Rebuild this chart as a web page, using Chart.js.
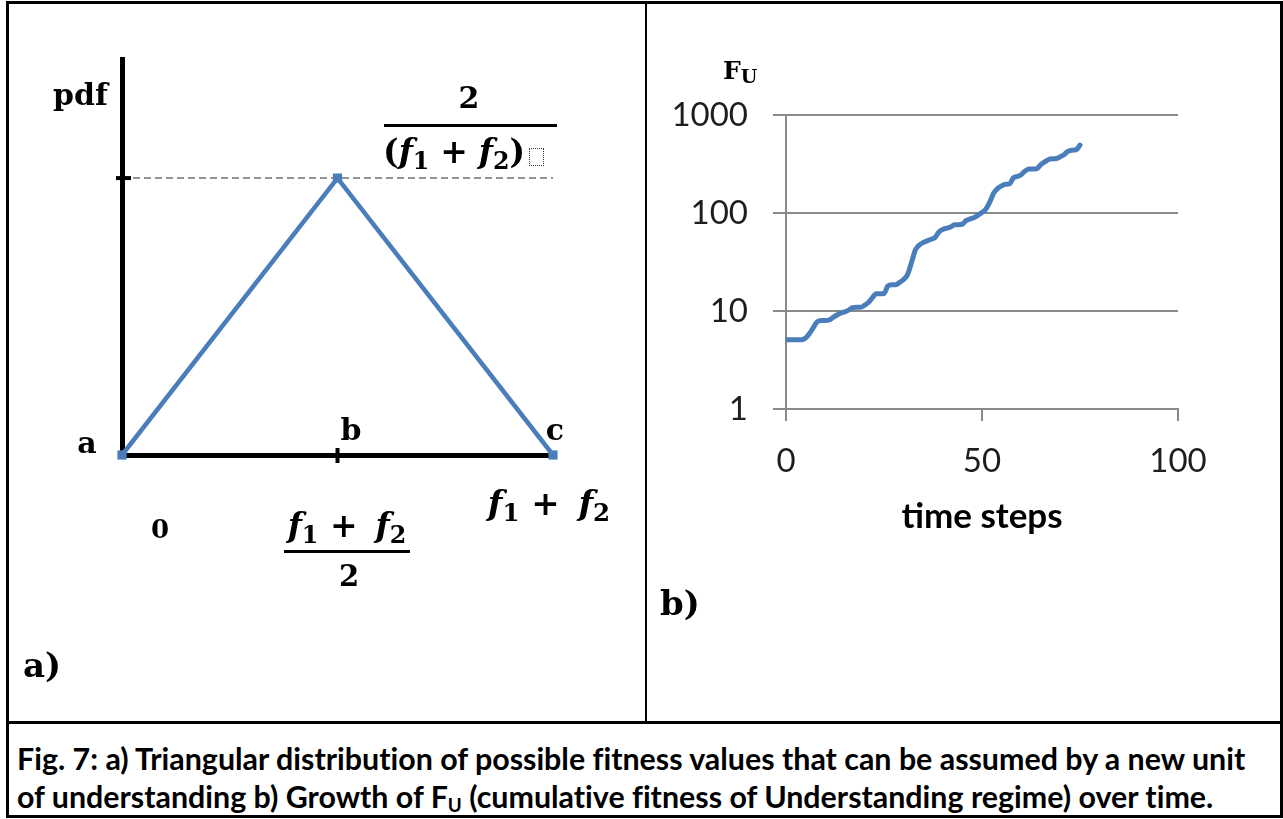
<!DOCTYPE html>
<html>
<head>
<meta charset="utf-8">
<title>Fig. 7</title>
<script src="https://cdn.jsdelivr.net/npm/chart.js@4.4.1/dist/chart.umd.min.js"></script>
<style>
  html, body { margin: 0; padding: 0; background: #fff; }
  #page { position: relative; width: 1283px; height: 819px; overflow: hidden; background: #fff; }
  canvas { position: absolute; top: 0; }
  .rule { position: absolute; background: #000; z-index: 5; }
  .lbl { position: absolute; white-space: nowrap; color: #000; line-height: 1; z-index: 4; }
  .serif { font-family: "DejaVu Serif", serif; font-weight: bold; }
  .math { font-family: "DejaVu Serif", serif; font-weight: bold; }
  .math i { font-style: italic; }
  .math sub { font-size: 0.72em; vertical-align: -0.25em; font-style: normal; }
  .ctr { transform: translateX(-50%); }
  .fbar { position: absolute; background: #000; z-index: 4; }
  .placeholder { display: inline-block; width: 13px; height: 16px; border: 1.5px dotted #333; margin-left: 4px; vertical-align: -3px; }
  .caption { position: absolute; left: 17px; font-family: Lato, "Open Sans", sans-serif; font-weight: bold; font-size: 30.4px; line-height: 1; color: #000; white-space: nowrap; z-index: 4; font-variant-ligatures: none; }
  .caption sub { font-size: 0.62em; vertical-align: -0.2em; }
</style>
</head>
<body>
<div id="page">
  <canvas id="pdfChart" width="646" height="720" style="left:0"></canvas>
  <canvas id="growthChart" width="637" height="720" style="left:646px"></canvas>

  <!-- table frame -->
  <div class="rule" style="left:6px;top:1px;width:1277px;height:3px"></div>
  <div class="rule" style="left:6px;top:1px;width:3px;height:817px"></div>
  <div class="rule" style="left:645px;top:1px;width:2px;height:722px"></div>
  <div class="rule" style="left:6px;top:721px;width:1277px;height:3px"></div>
  <div class="rule" style="left:6px;top:815px;width:1277px;height:3px"></div>
  <div class="rule" style="left:1280px;top:1px;width:3px;height:817px"></div>

  <!-- panel a) annotations -->
  <div class="lbl serif" style="left:53px;top:80px;font-size:30px">pdf</div>
  <div class="lbl serif ctr" style="left:469px;top:83px;font-size:30px">2</div>
  <div class="fbar" style="left:384px;top:124px;width:173px;height:3px"></div>
  <div class="lbl math" style="left:383px;top:135px;font-size:33px">(<i>f</i><sub>1</sub>&#8196;+&#8196;<i>f</i><sub>2</sub>)<span class="placeholder"></span></div>
  <div class="lbl serif ctr" style="left:87px;top:428px;font-size:30px">a</div>
  <div class="lbl serif ctr" style="left:351px;top:415px;font-size:30px">b</div>
  <div class="lbl serif ctr" style="left:555px;top:415px;font-size:30px">c</div>
  <div class="lbl serif ctr" style="left:160px;top:516px;font-size:26px">0</div>
  <div class="lbl math ctr" style="left:347px;top:509px;font-size:33px"><i>f</i><sub>1</sub> + &#8201;<i>f</i><sub>2</sub></div>
  <div class="fbar" style="left:284px;top:550px;width:126px;height:3px"></div>
  <div class="lbl serif ctr" style="left:349px;top:562px;font-size:29px">2</div>
  <div class="lbl math ctr" style="left:549px;top:486px;font-size:34px"><i>f</i><sub>1</sub> + &#8201;<i>f</i><sub>2</sub></div>
  <div class="lbl serif" style="left:23px;top:648px;font-size:34px">a)</div>

  <!-- panel b) annotations -->
  <div class="lbl serif" style="left:723px;top:58px;font-size:25px">F<span style="font-size:19px;position:relative;top:4px">U</span></div>
  <div class="lbl serif" style="left:660px;top:586px;font-size:34px">b)</div>

  <div class="caption" style="top:743px">Fig. 7: a) Triangular distribution of possible fitness values that can be assumed by a new unit</div>
  <div class="caption" style="top:781px">of understanding b) Growth of F<sub>U</sub> (cumulative fitness of Understanding regime) over time.</div>
</div>

<script>
// ---- panel a): triangular pdf, x in units of (f1+f2)/2, pdf normalised so the peak 2/(f1+f2) = 1
const pdfPointNames = ['a', 'b', 'c'];
const pdfX = [0, 1, 2];
const pdfY = [0, 1, 0];
const peakGuideX = [0, 2];
const peakGuideY = [1, 1];

// ---- panel b): cumulative fitness F_U of the Understanding regime per time step
const timeSteps = [
  0, 1, 2, 3, 4, 5, 6, 7, 8, 9,
  10, 11, 12, 13, 14, 15, 16, 17, 18, 19,
  20, 21, 22, 23, 24, 25, 26, 27, 28, 29,
  30, 31, 32, 33, 34, 35, 36, 37, 38, 39,
  40, 41, 42, 43, 44, 45, 46, 47, 48, 49,
  50, 51, 52, 53, 54, 55, 56, 57, 58, 59,
  60, 61, 62, 63, 64, 65, 66, 67, 68, 69,
  70, 71, 72, 73, 74, 75
];
const fitnessU = [
  5.1, 5.1, 5.1, 5.1, 5.1, 5.3, 5.9, 6.8, 7.8, 8.0,
  8.0, 8.1, 8.6, 9.1, 9.5, 9.8, 10.2, 10.8, 10.9, 10.9,
  11.4, 12.2, 13.6, 15.0, 15.0, 15.1, 18.0, 18.5, 18.5, 19.6,
  21.0, 23.5, 31, 42, 47, 50, 52, 54, 56, 64,
  68, 70, 72, 76, 76, 77, 84, 87, 90, 95,
  101, 110, 130, 160, 178, 189, 196, 198, 228, 236,
  246, 268, 281, 281, 284, 312, 332, 352, 358, 360,
  376, 396, 428, 438, 442, 492
];
const yTickValues = [1, 10, 100, 1000];
const xTickValues = [0, 50, 100];

const lineBlue = '#4a7ebb';
const axisGray = '#8a8a8a';

// Tick marks that cross the black axes of panel a)
const crossTicks = {
  id: 'crossTicks',
  afterDatasetsDraw(chart) {
    const {ctx, scales: {x, y}} = chart;
    ctx.save();
    ctx.strokeStyle = '#000';
    ctx.lineWidth = 4;
    // peak level on the pdf axis
    const yPeak = y.getPixelForValue(pdfY[1]);
    const x0 = x.getPixelForValue(pdfX[0]);
    ctx.beginPath();
    ctx.moveTo(x0 - 6, yPeak);
    ctx.lineTo(x0 + 9, yPeak);
    ctx.stroke();
    // mode b on the horizontal axis
    const xb = x.getPixelForValue(pdfX[1]);
    const y0 = y.getPixelForValue(0);
    ctx.beginPath();
    ctx.moveTo(xb, y0 - 7);
    ctx.lineTo(xb, y0 + 8);
    ctx.stroke();
    ctx.restore();
  }
};

new Chart(document.getElementById('pdfChart'), {
  type: 'line',
  data: {
    datasets: [
      {
        label: 'triangular pdf',
        data: pdfX.map((v, i) => ({x: v, y: pdfY[i], name: pdfPointNames[i]})),
        borderColor: lineBlue,
        borderWidth: 4.5,
        backgroundColor: lineBlue,
        pointStyle: 'rect',
        pointRadius: 6.5,
        pointBackgroundColor: lineBlue,
        pointBorderColor: lineBlue,
        pointBorderWidth: 0,
        tension: 0,
        clip: false,
        order: 1
      },
      {
        label: 'peak level',
        data: peakGuideX.map((v, i) => ({x: v, y: peakGuideY[i]})),
        borderColor: '#939393',
        borderWidth: 2,
        borderDash: [7, 4],
        pointRadius: 0,
        clip: false,
        order: 2
      }
    ]
  },
  options: {
    responsive: false,
    animation: false,
    devicePixelRatio: 1,
    layout: {padding: {left: 122, right: 93, top: 59, bottom: 265}},
    plugins: {legend: {display: false}, tooltip: {enabled: false}},
    scales: {
      x: {
        type: 'linear', min: 0, max: 2,
        ticks: {display: false},
        grid: {drawOnChartArea: false, drawTicks: false, lineWidth: 0},
        border: {display: true, color: '#000', width: 5}
      },
      y: {
        type: 'linear', min: 0, max: 1.43,
        ticks: {display: false},
        grid: {drawOnChartArea: false, drawTicks: false, lineWidth: 0},
        border: {display: true, color: '#000', width: 5}
      }
    }
  },
  plugins: [crossTicks]
});

new Chart(document.getElementById('growthChart'), {
  type: 'line',
  data: {
    datasets: [{
      label: 'F_U',
      data: timeSteps.map((t, i) => ({x: t, y: fitnessU[i]})),
      borderColor: lineBlue,
      borderWidth: 5,
      pointRadius: 0,
      cubicInterpolationMode: 'monotone',
      borderCapStyle: 'round',
      borderJoinStyle: 'round'
    }]
  },
  options: {
    responsive: false,
    animation: false,
    devicePixelRatio: 1,
    layout: {padding: {left: 0, right: 105, top: 115, bottom: 182}},
    plugins: {legend: {display: false}, tooltip: {enabled: false}},
    scales: {
      x: {
        type: 'linear', min: 0, max: 100,
        afterBuildTicks: (s) => { s.ticks = xTickValues.map(v => ({value: v})); },
        afterFit: (s) => { s.height = 129; },
        ticks: {
          font: {family: 'Lato', size: 33},
          color: '#1e1e1e',
          padding: 21,
          maxRotation: 0,
          autoSkip: false
        },
        grid: {drawOnChartArea: false, drawTicks: true, tickLength: 12, color: axisGray, lineWidth: 2},
        border: {color: axisGray, width: 2},
        title: {
          display: true,
          text: 'time steps',
          font: {family: 'Lato', size: 35, weight: 'bold'},
          color: '#000',
          padding: {top: 0, bottom: 0}
        }
      },
      y: {
        type: 'logarithmic', min: 1, max: 1000,
        afterBuildTicks: (s) => { s.ticks = yTickValues.map(v => ({value: v})); },
        afterFit: (s) => { s.width = 140; },
        ticks: {
          font: {family: 'Lato', size: 33},
          color: '#1e1e1e',
          padding: 25,
          callback: (v) => String(v)
        },
        grid: {drawOnChartArea: true, drawTicks: true, tickLength: 13, color: axisGray, lineWidth: 2},
        border: {color: axisGray, width: 2}
      }
    }
  }
});
</script>
</body>
</html>
